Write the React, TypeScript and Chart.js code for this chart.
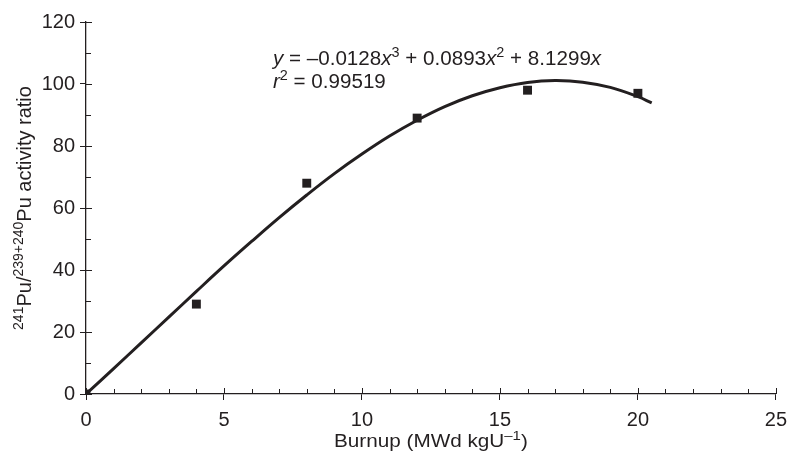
import React, { useEffect, useRef } from "react";
import { Chart, registerables } from "chart.js";

Chart.register(...registerables);

// Measured points (burnup in MWd/kgU, 241Pu/(239+240)Pu activity ratio)
const burnup = [0, 4, 8, 12, 16, 20];
const activityRatio = [0, 29, 68, 89, 98, 97];

// Fitted trend curve
const fitBurnup = [0, 1, 2, 3, 4, 5, 6, 7, 8, 9, 10, 11, 12, 13, 14, 15, 16, 17, 18, 19, 20, 20.5];
const fitRatio = [0, 8.2, 16.5, 24.8, 33.1, 41.3, 49.2, 56.9, 64.2, 71.1, 77.4, 83.2, 88.3, 92.7, 96.2, 98.8, 100.5, 101.1, 100.6, 98.9, 95.9, 93.9];

const xTicks = [0, 5, 10, 15, 20, 25];
const yTicks = [0, 20, 40, 60, 80, 100, 120];
const xMinorTicks = [1, 2, 3, 4, 6, 7, 8, 9, 11, 12, 13, 14, 16, 17, 18, 19, 21, 22, 23, 24];
const yMinorTicks = [10, 30, 50, 70, 90, 110];

const equationText = ["y", " = \u20130.0128", "x", "3", " + 0.0893", "x", "2", " + 8.1299", "x"];
const r2Text = ["r", "2", " = 0.99519"];

const INK = "#231f20";
const FONT = "'Liberation Sans', Arial, Helvetica, sans-serif";

type Seg = { t: string; sup?: boolean; it?: boolean };

function drawRich(
  ctx: CanvasRenderingContext2D,
  segs: Seg[],
  x: number,
  y: number,
  size: number,
  align: "left" | "center",
  sx = 1,
  supRatio = 0.7
) {
  const supSize = Math.round(size * supRatio);
  const fontFor = (s: Seg) => `${s.it ? "italic " : ""}${s.sup ? supSize : size}px ${FONT}`;
  let total = 0;
  const widths = segs.map((s) => {
    ctx.font = fontFor(s);
    const w = ctx.measureText(s.t).width;
    total += w;
    return w;
  });
  ctx.save();
  ctx.translate(x, y);
  ctx.scale(sx, 1);
  let cx = align === "center" ? -total / 2 : 0;
  ctx.textAlign = "left";
  ctx.textBaseline = "alphabetic";
  segs.forEach((s, i) => {
    ctx.font = fontFor(s);
    ctx.fillText(s.t, cx, s.sup ? -size * 0.4 : 0);
    cx += widths[i];
  });
  ctx.restore();
}

const decorPlugin = {
  id: "decor",
  afterDraw(chart: any) {
    const ctx: CanvasRenderingContext2D = chart.ctx;
    const xs = chart.scales.x;
    const ys = chart.scales.y;
    const area = chart.chartArea;
    ctx.save();
    ctx.strokeStyle = INK;
    ctx.fillStyle = INK;
    ctx.lineWidth = 1;
    ctx.beginPath();
    xTicks.forEach((v) => {
      const px = Math.round(xs.getPixelForValue(v)) + 0.5;
      ctx.moveTo(px, area.bottom);
      ctx.lineTo(px, area.bottom - 6);
    });
    xMinorTicks.forEach((v) => {
      const px = Math.round(xs.getPixelForValue(v)) + 0.5;
      ctx.moveTo(px, area.bottom);
      ctx.lineTo(px, area.bottom - 5);
    });
    yTicks.forEach((v) => {
      const py = Math.round(ys.getPixelForValue(v)) + 0.5;
      ctx.moveTo(area.left, py);
      ctx.lineTo(area.left + 6, py);
    });
    yMinorTicks.forEach((v) => {
      const py = Math.round(ys.getPixelForValue(v)) + 0.5;
      ctx.moveTo(area.left, py);
      ctx.lineTo(area.left + 5, py);
    });
    ctx.stroke();

    // x axis title
    drawRich(ctx, [{ t: "Burnup (MWd kgU" }, { t: "\u20131", sup: true }, { t: ")" }], (area.left + area.right) / 2, 447, 18, "center", 1.15);

    // y axis title (rotated)
    ctx.save();
    ctx.translate(31, (area.top + area.bottom) / 2);
    ctx.rotate(-Math.PI / 2);
    drawRich(
      ctx,
      [{ t: "241", sup: true }, { t: "Pu/" }, { t: "239+240", sup: true }, { t: "Pu activity ratio" }],
      0,
      0,
      20,
      "center",
      1,
      0.72
    );
    ctx.restore();

    // equation annotation
    const eq: Seg[] = [
      { t: equationText[0], it: true },
      { t: equationText[1] },
      { t: equationText[2], it: true },
      { t: equationText[3], sup: true },
      { t: equationText[4] },
      { t: equationText[5], it: true },
      { t: equationText[6], sup: true },
      { t: equationText[7] },
      { t: equationText[8], it: true },
    ];
    drawRich(ctx, eq, 273, 65, 20, "left", 1.03);
    drawRich(ctx, [{ t: r2Text[0], it: true }, { t: r2Text[1], sup: true }, { t: r2Text[2] }], 273, 88, 20, "left", 1.03);
    ctx.restore();
  },
};

export default function App() {
  const ref = useRef<HTMLCanvasElement | null>(null);
  useEffect(() => {
    if (!ref.current) return;
    const chart = new Chart(ref.current, {
      type: "scatter",
      data: {
        datasets: [
          {
            label: "Measured",
            data: burnup.map((b, i) => ({ x: b, y: activityRatio[i] })),
            pointStyle: "rect",
            pointRadius: 6.3,
            pointBackgroundColor: INK,
            pointBorderWidth: 0,
            showLine: false,
          },
          {
            label: "Fit",
            data: fitBurnup.map((b, i) => ({ x: b, y: fitRatio[i] })),
            showLine: true,
            borderColor: INK,
            borderWidth: 3,
            pointRadius: 0,
            tension: 0.4,
            fill: false,
          },
        ] as any,
      },
      options: {
        animation: false,
        responsive: false,
        devicePixelRatio: 1,
        layout: { padding: { top: 22, right: 11, left: 0, bottom: 0 } },
        plugins: { legend: { display: false }, tooltip: { enabled: false } },
        scales: {
          x: {
            type: "linear",
            min: 0,
            max: 25,
            afterBuildTicks: (s: any) => {
              s.ticks = xTicks.map((v) => ({ value: v }));
            },
            afterFit: (s: any) => {
              s.height = 63;
            },
            ticks: { color: INK, font: { family: FONT, size: 20 }, padding: 8, maxRotation: 0 },
            grid: { drawOnChartArea: false, drawTicks: true, tickLength: 6, color: INK, lineWidth: 1 },
            border: { display: true, color: INK, width: 1.3 },
          },
          y: {
            type: "linear",
            min: 0,
            max: 120,
            afterBuildTicks: (s: any) => {
              s.ticks = yTicks.map((v) => ({ value: v }));
            },
            afterFit: (s: any) => {
              s.width = 86;
            },
            ticks: { color: INK, font: { family: FONT, size: 20 }, padding: 5 },
            grid: { drawOnChartArea: false, drawTicks: true, tickLength: 6, color: INK, lineWidth: 1 },
            border: { display: true, color: INK, width: 1.3 },
          },
        },
      },
      plugins: [decorPlugin],
    });
    return () => chart.destroy();
  }, []);
  return (
    <div style={{ position: "fixed", left: 0, top: 0, width: 795, height: 457, background: "#fff" }}>
      <canvas ref={ref} width={795} height={457} />
    </div>
  );
}
